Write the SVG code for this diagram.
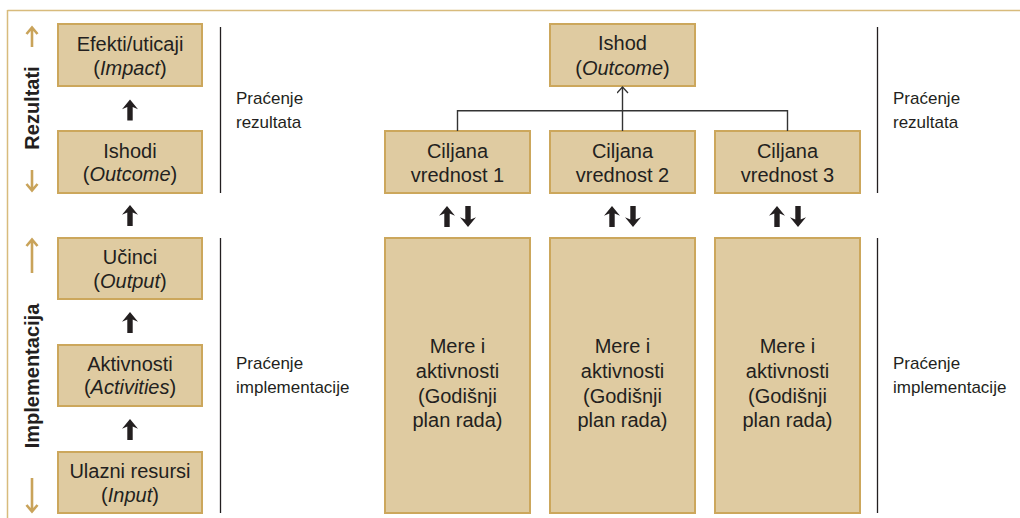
<svg xmlns="http://www.w3.org/2000/svg" xmlns:xlink="http://www.w3.org/1999/xlink" width="1020" height="518" viewBox="0 0 1020 518">
<style>
.box{fill:#dfcba1;stroke:#cca75c;stroke-width:2}
.t{font-family:"Liberation Sans",Arial,sans-serif;font-size:20px;fill:#231f20;text-anchor:middle}
.lab{font-family:"Liberation Sans",Arial,sans-serif;font-size:17px;fill:#231f20}
.side{font-family:"Liberation Sans",Arial,sans-serif;font-size:20px;font-weight:bold;fill:#231f20;text-anchor:middle}
.sep{stroke:#231f20;stroke-width:1.3}
.gold{stroke:#c9a35a;stroke-width:2.6;fill:none}
.conn{stroke:#333;stroke-width:1.4;fill:none}
.bold{fill:#231f20}
</style>
<defs>
<path id="ba" d="M0,-10.5 L8,-0.8 L2.7,-3 L2.7,10.5 L-2.7,10.5 L-2.7,-3 L-8,-0.8 Z"/>
<marker id="open" viewBox="0 0 12 12" refX="11" refY="6" markerWidth="12" markerHeight="12" markerUnits="userSpaceOnUse" orient="auto">
<path d="M5,0.5 L11,6 L5,11.5" fill="none" stroke="#333" stroke-width="1.3"/>
</marker>
</defs>
<!-- frame -->
<g id="frame">
<line x1="7.5" y1="10.5" x2="1020" y2="10.5" stroke="#d8bb7c" stroke-width="1.5"/>
<line x1="7.5" y1="10" x2="7.5" y2="518" stroke="#d8bb7c" stroke-width="1.5"/>
</g>
<!-- side labels -->
<g id="side-rezultati">
<text class="side" transform="translate(39,108) rotate(-90)">Rezultati</text>
<path class="gold" d="M32,47 L32,28 M26.5,34 L32,27.5 L37.5,34"/>
<path class="gold" d="M32,170 L32,190 M26.5,184 L32,190.5 L37.5,184"/>
</g>
<g id="side-implementacija">
<text class="side" transform="translate(39,376) rotate(-90)">Implementacija</text>
<path class="gold" d="M32,273 L32,240 M26.5,246 L32,239.5 L37.5,246"/>
<path class="gold" d="M32,478 L32,511 M26.5,505 L32,511.5 L37.5,505"/>
</g>
<!-- left column nodes -->
<g id="n-efekti"><rect class="box" x="58" y="24" width="144" height="62"/>
<text class="t" x="130" y="51">Efekti/uticaji</text><text class="t" x="130" y="75">(<tspan font-style="italic">Impact</tspan>)</text></g>
<g id="n-ishodi"><rect class="box" x="58" y="131" width="144" height="62"/>
<text class="t" x="130" y="158">Ishodi</text><text class="t" x="130" y="181">(<tspan font-style="italic">Outcome</tspan>)</text></g>
<g id="n-ucinci"><rect class="box" x="58" y="238" width="144" height="61"/>
<text class="t" x="130" y="264">Učinci</text><text class="t" x="130" y="288">(<tspan font-style="italic">Output</tspan>)</text></g>
<g id="n-aktivnosti"><rect class="box" x="58" y="345" width="144" height="61"/>
<text class="t" x="130" y="371">Aktivnosti</text><text class="t" x="130" y="394">(<tspan font-style="italic">Activities</tspan>)</text></g>
<g id="n-ulazni"><rect class="box" x="58" y="452" width="144" height="61"/>
<text class="t" x="130" y="478">Ulazni resursi</text><text class="t" x="130" y="502">(<tspan font-style="italic">Input</tspan>)</text></g>
<!-- right nodes -->
<g id="n-ishod"><rect class="box" x="550" y="24" width="145" height="62"/>
<text class="t" x="622.5" y="50">Ishod</text><text class="t" x="622.5" y="75">(<tspan font-style="italic">Outcome</tspan>)</text></g>
<g id="n-cv1"><rect class="box" x="385" y="131" width="145" height="62"/>
<text class="t" x="457.5" y="158">Ciljana</text><text class="t" x="457.5" y="182">vrednost 1</text></g>
<g id="n-cv2"><rect class="box" x="550" y="131" width="145" height="62"/>
<text class="t" x="622.5" y="158">Ciljana</text><text class="t" x="622.5" y="182">vrednost 2</text></g>
<g id="n-cv3"><rect class="box" x="715" y="131" width="145" height="62"/>
<text class="t" x="787.5" y="158">Ciljana</text><text class="t" x="787.5" y="182">vrednost 3</text></g>
<g id="n-mere1"><rect class="box" x="385" y="238" width="145" height="275"/>
<text class="t" x="457.5" y="353">Mere i</text><text class="t" x="457.5" y="378">aktivnosti</text><text class="t" x="457.5" y="403">(Godišnji</text><text class="t" x="457.5" y="427">plan rada)</text></g>
<g id="n-mere2"><rect class="box" x="550" y="238" width="145" height="275"/>
<text class="t" x="622.5" y="353">Mere i</text><text class="t" x="622.5" y="378">aktivnosti</text><text class="t" x="622.5" y="403">(Godišnji</text><text class="t" x="622.5" y="427">plan rada)</text></g>
<g id="n-mere3"><rect class="box" x="715" y="238" width="145" height="275"/>
<text class="t" x="787.5" y="353">Mere i</text><text class="t" x="787.5" y="378">aktivnosti</text><text class="t" x="787.5" y="403">(Godišnji</text><text class="t" x="787.5" y="427">plan rada)</text></g>
<!-- separators and labels -->
<g id="monitoring">
<line class="sep" x1="220.5" y1="27" x2="220.5" y2="193"/>
<line class="sep" x1="220.5" y1="238" x2="220.5" y2="513"/>
<line class="sep" x1="877.5" y1="27" x2="877.5" y2="193"/>
<line class="sep" x1="877.5" y1="238" x2="877.5" y2="513"/>
<text class="lab" x="236" y="104">Praćenje</text><text class="lab" x="236" y="128">rezultata</text>
<text class="lab" x="236" y="369">Praćenje</text><text class="lab" x="236" y="393">implementacije</text>
<text class="lab" x="893" y="104">Praćenje</text><text class="lab" x="893" y="128">rezultata</text>
<text class="lab" x="893" y="369">Praćenje</text><text class="lab" x="893" y="393">implementacije</text>
</g>
<!-- connectors -->
<g id="connectors">
<use href="#ba" class="bold" x="130" y="110"/>
<use href="#ba" class="bold" x="130" y="215.5"/>
<use href="#ba" class="bold" x="130" y="322.5"/>
<use href="#ba" class="bold" x="130" y="429.5"/>
<use href="#ba" class="bold" x="447" y="216.5"/>
<use href="#ba" class="bold" transform="translate(468,216.5) rotate(180)"/>
<use href="#ba" class="bold" x="612" y="216.5"/>
<use href="#ba" class="bold" transform="translate(633,216.5) rotate(180)"/>
<use href="#ba" class="bold" x="777" y="216.5"/>
<use href="#ba" class="bold" transform="translate(798,216.5) rotate(180)"/>
<path class="conn" d="M457.5,131 L457.5,110.7 L787.5,110.7 L787.5,131"/>
<line class="conn" x1="622.5" y1="131" x2="622.5" y2="87" marker-end="url(#open)"/>
</g>
</svg>
